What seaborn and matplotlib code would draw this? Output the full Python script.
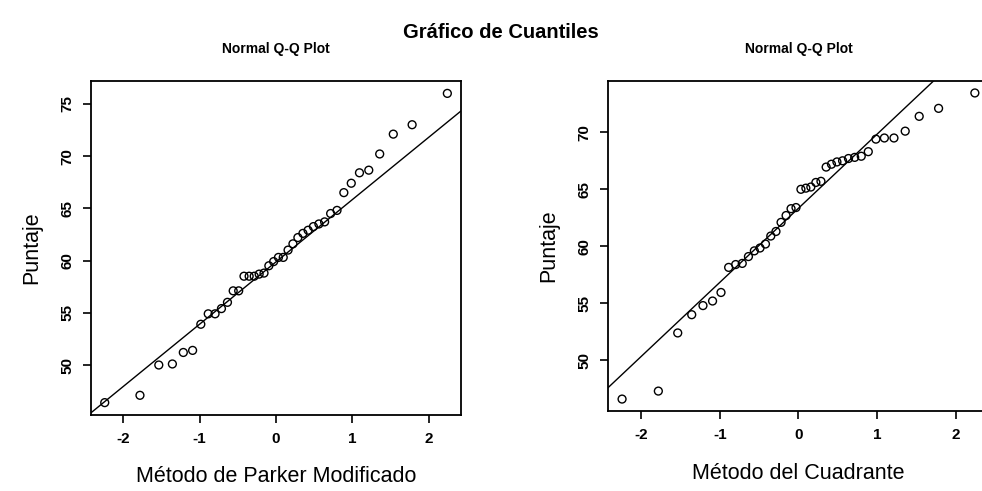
import numpy as np
import pandas as pd
import matplotlib
matplotlib.use("Agg")
import matplotlib.pyplot as plt
import seaborn as sns
from statistics import NormalDist

# puntajes ordenados (n = 40 en cada metodo)
parker = [46.4, 47.1, 50.0, 50.1, 51.2, 51.4, 53.9, 54.9, 54.9, 55.4,
          56.0, 57.1, 57.1, 58.5, 58.5, 58.5, 58.7, 58.8, 59.5, 59.9,
          60.3, 60.3, 61.0, 61.6, 62.2, 62.6, 62.9, 63.25, 63.5, 63.7,
          64.5, 64.8, 66.5, 67.4, 68.4, 68.65, 70.2, 72.1, 73.0, 76.0]
cuadrante = [46.6, 47.3, 52.4, 54.0, 54.8, 55.2, 55.95, 58.15, 58.4, 58.5,
             59.1, 59.6, 59.85, 60.2, 60.9, 61.3, 62.1, 62.7, 63.3, 63.4,
             65.0, 65.1, 65.2, 65.6, 65.7, 66.95, 67.2, 67.4, 67.5, 67.7,
             67.8, 67.9, 68.3, 69.4, 69.5, 69.5, 70.1, 71.4, 72.1, 73.45]

x_ticks = [-2, -1, 0, 1, 2]
y_ticks_parker = [50, 55, 60, 65, 70, 75]
y_ticks_cuadrante = [50, 55, 60, 65, 70]

sns.set_theme(style="white")
plt.rcParams['font.family'] = ['Liberation Sans', 'DejaVu Sans']
plt.rcParams['text.color'] = 'black'
plt.rcParams['axes.labelcolor'] = 'black'

nd = NormalDist()


def qq_frame(values):
    v = np.sort(np.asarray(values, dtype=float))
    n = len(v)
    a = 3 / 8 if n <= 10 else 0.5
    p = (np.arange(1, n + 1) - a) / (n + 1 - 2 * a)
    theo = np.array([nd.inv_cdf(pi) for pi in p])
    return pd.DataFrame({"teorico": theo, "puntaje": v})


def qq_panel(ax, values, yticks, xlabel):
    df = qq_frame(values)
    sns.scatterplot(data=df, x="teorico", y="puntaje", ax=ax, s=32,
                    marker="o", legend=False)
    pts = ax.collections[0]
    pts.set_facecolor("none")
    pts.set_edgecolor("black")
    pts.set_linewidth(1.0)

    # qqline: pasa por los cuartiles 1 y 3
    q1, q3 = np.quantile(df["puntaje"], [0.25, 0.75])
    z1, z3 = nd.inv_cdf(0.25), nd.inv_cdf(0.75)
    slope = (q3 - q1) / (z3 - z1)
    ax.axline((0, q1 - slope * z1), slope=slope, color="black", lw=1.0)

    xr = df["teorico"].max() - df["teorico"].min()
    yr = df["puntaje"].max() - df["puntaje"].min()
    ax.set_xlim(df["teorico"].min() - 0.04 * xr, df["teorico"].max() + 0.04 * xr)
    ax.set_ylim(df["puntaje"].min() - 0.04 * yr, df["puntaje"].max() + 0.04 * yr)

    ax.set_xticks(x_ticks, labels=[str(t) for t in x_ticks], fontweight="bold")
    ax.set_yticks(yticks, labels=[str(t) for t in yticks], fontweight="bold",
                  rotation=90, va="center")
    ax.tick_params(direction="out", length=6, width=1.2, pad=6, labelsize=11,
                   bottom=True, left=True, colors="black")
    for sp in ax.spines.values():
        sp.set_visible(True)
        sp.set_color("black")
        sp.set_linewidth(1.3)

    ax.set_title("Normal Q-Q Plot", fontsize=10, fontweight="bold", pad=20,
                 color="black")
    ax.set_xlabel(xlabel, fontsize=15.5, labelpad=15)
    ax.set_ylabel("Puntaje", fontsize=15.5, labelpad=13)


fig = plt.figure(figsize=(9.82, 4.91), dpi=100)
ax1 = fig.add_axes([0.0927, 0.1548, 0.3768, 0.6802])
ax2 = fig.add_axes([0.6191, 0.1623, 0.3880, 0.6733])

qq_panel(ax1, parker, y_ticks_parker, "Método de Parker Modificado")
qq_panel(ax2, cuadrante, y_ticks_cuadrante, "Método del Cuadrante")

fig.text(0.51, 1 - 32 / 491, "Gráfico de Cuantiles", ha="center", va="center",
         fontsize=14.5, fontweight="bold", color="black")

fig.savefig("out.png", dpi=100)
